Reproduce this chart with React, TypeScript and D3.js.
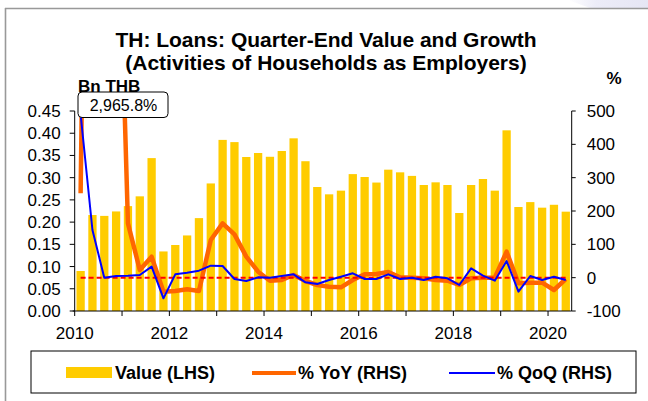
import React from "react";
import * as d3 from "d3";

const quarters: string[] = [];
for (let y = 2010; y <= 2020; y++) {
  for (let q = 1; q <= 4; q++) {
    if (y === 2020 && q > 2) break;
    quarters.push(`${y}Q${q}`);
  }
}

const valueBn = [
  0.09, 0.216, 0.214, 0.224, 0.236, 0.258, 0.344, 0.134, 0.1485, 0.17,
  0.209, 0.287, 0.385, 0.38, 0.3465, 0.3555, 0.347, 0.36, 0.3885, 0.337,
  0.279, 0.2625, 0.2708, 0.308, 0.3015, 0.289, 0.318, 0.312, 0.304, 0.2835,
  0.2895, 0.2835, 0.2205, 0.2835, 0.297, 0.2708, 0.4065, 0.234, 0.245, 0.2325,
  0.239, 0.2235,
];

const yoyPct = [
  253, 2965.8, 2040, 1369, 163, 23, 63, -42, -40, -35,
  -40, 113, 163, 130, 63, 18, -9, -7, 8, -10,
  -22, -27, -29, -7, 10, 11, 17, 1, 0, -2,
  -7, -9, -22, -2, 0, 0, 78, -17, -15, -15,
  -37, -4,
];

const qoqPct = [
  490, 143, 0, 5, 6, 8, 33, -62, 10, 15,
  21, 36, 35, -4, -10, 1, 0, 5, 10, -14,
  -19, -7, 3, 13, -4, -4, 10, -4, 0, -7,
  3, -2, -22, 28, 6, -9, 50, -42, 5, -7,
  3, -7,
];

const leftTicks = [0, 0.05, 0.1, 0.15, 0.2, 0.25, 0.3, 0.35, 0.4, 0.45];
const rightTicks = [-100, 0, 100, 200, 300, 400, 500];
const yearTicks = d3.range(2010, 2021);
const yearLabels = [2010, 2012, 2014, 2016, 2018, 2020];

const title1 = "TH: Loans: Quarter-End Value and Growth";
const title2 = "(Activities of Households as Employers)";
const annotation = "2,965.8%";

const FONT = "'Liberation Sans', Arial, Helvetica, sans-serif";
const BAR = "#FFCC00";
const ORANGE = "#FF6600";
const BLUE = "#0000FF";

export default function App() {
  const W = 648, H = 401;
  const left = 74.7, right = 571.7, top = 111, bottom = 311;

  const x = d3.scaleBand<number>()
    .domain(d3.range(quarters.length))
    .range([left, right])
    .paddingInner(0.3)
    .paddingOuter(0.15);
  const cx = (i: number) => (x(i) as number) + x.bandwidth() / 2;
  const xt = d3.scaleLinear().domain([2010, 2020.5]).range([left, right]);
  const yL = d3.scaleLinear().domain([0, 0.45]).range([bottom, top]);
  const yR = d3.scaleLinear().domain([-100, 500]).range([bottom, top]);

  const line = d3.line<number>().x((_, i) => cx(i)).y((d) => yR(d));
  const zeros = quarters.map(() => 0);

  return (
    <svg
      width={W}
      height={H}
      style={{ position: "absolute", left: 0, top: 0, background: "#fff" }}
      fontFamily={FONT}
    >
      <defs>
        <clipPath id="plot">
          <rect x={left} y={top} width={right - left} height={bottom - top} />
        </clipPath>
        <linearGradient id="lav" x1="0" x2="1" y1="0" y2="0">
          <stop offset="0" stopColor="#ffffff" />
          <stop offset="0.35" stopColor="#ececf8" />
          <stop offset="1" stopColor="#e6e6f4" />
        </linearGradient>
      </defs>
      <rect x={0} y={0} width={W} height={H} fill="#fff" />
      <polygon points="568,0 648,0 648,8 590,8" fill="url(#lav)" />
      {/* frame */}
      <line x1={5} y1={8.5} x2={648} y2={8.5} stroke="#999" strokeWidth={1.6} />
      <line x1={5.5} y1={8} x2={5.5} y2={401} stroke="#999" strokeWidth={1.6} />

      {/* title */}
      <text x={326} y={47} textAnchor="middle" fontSize={21} fontWeight="bold">{title1}</text>
      <text x={326} y={70} textAnchor="middle" fontSize={21} fontWeight="bold">{title2}</text>
      <text x={78} y={92} fontSize={17} fontWeight="bold">Bn THB</text>
      <text x={614} y={84} textAnchor="middle" fontSize={17} fontWeight="bold">%</text>

      {/* bars */}
      {valueBn.map((v, i) => (
        <rect key={i} x={x(i)} y={yL(v)} width={x.bandwidth()} height={yL(0) - yL(v)} fill={BAR} />
      ))}

      {/* lines */}
      <g clipPath="url(#plot)">
        <path d={line(yoyPct) ?? ""} fill="none" stroke={ORANGE} strokeWidth={4.5} strokeLinejoin="round" />
        <path d={line(zeros) ?? ""} fill="none" stroke="#FF0000" strokeWidth={2} strokeDasharray="5,3" />
        <path d={line(qoqPct) ?? ""} fill="none" stroke={BLUE} strokeWidth={2} strokeLinejoin="round" />
      </g>

      {/* left axis */}
      <line x1={left} y1={top} x2={left} y2={bottom} stroke="#000" />
      {leftTicks.map((t) => (
        <g key={t}>
          <line x1={left - 5} x2={left} y1={yL(t)} y2={yL(t)} stroke="#000" />
          <text x={left - 14} y={yL(t) + 6} textAnchor="end" fontSize={17}>{d3.format(".2f")(t)}</text>
        </g>
      ))}
      {/* right axis */}
      <line x1={right} y1={top} x2={right} y2={bottom} stroke="#000" />
      {rightTicks.map((t) => (
        <g key={t}>
          <line x1={right} x2={right + 4} y1={yR(t)} y2={yR(t)} stroke="#000" />
          <text x={right + 15} y={yR(t) + 6} textAnchor="start" fontSize={17}>{t}</text>
        </g>
      ))}
      {/* x axis */}
      <line x1={left - 2} y1={bottom} x2={right} y2={bottom} stroke="#000" />
      {yearTicks.map((t) => (
        <line key={t} x1={xt(t)} x2={xt(t)} y1={bottom} y2={bottom + 5} stroke="#000" />
      ))}
      {yearLabels.map((t) => (
        <text key={t} x={xt(t)} y={339} textAnchor="middle" fontSize={17}>{t}</text>
      ))}

      {/* annotation */}
      <rect x={78} y={92} width={90} height={25.5} rx={4} fill="#fff" stroke="#000" strokeWidth={1} />
      <text x={123.5} y={110.5} textAnchor="middle" fontSize={16}>{annotation}</text>

      {/* legend */}
      <rect x={31} y={351} width={605} height={42} fill="#fff" stroke="#000" strokeWidth={1} />
      <rect x={66} y={367} width={46} height={11} fill={BAR} />
      <text x={115} y={379} fontSize={18} fontWeight="bold">Value (LHS)</text>
      <line x1={252} x2={296} y1={373} y2={373} stroke={ORANGE} strokeWidth={4} />
      <text x={298} y={379} fontSize={18} fontWeight="bold">% YoY (RHS)</text>
      <line x1={449} x2={495} y1={373} y2={373} stroke={BLUE} strokeWidth={2} />
      <text x={497} y={379} fontSize={18} fontWeight="bold">% QoQ (RHS)</text>
    </svg>
  );
}
